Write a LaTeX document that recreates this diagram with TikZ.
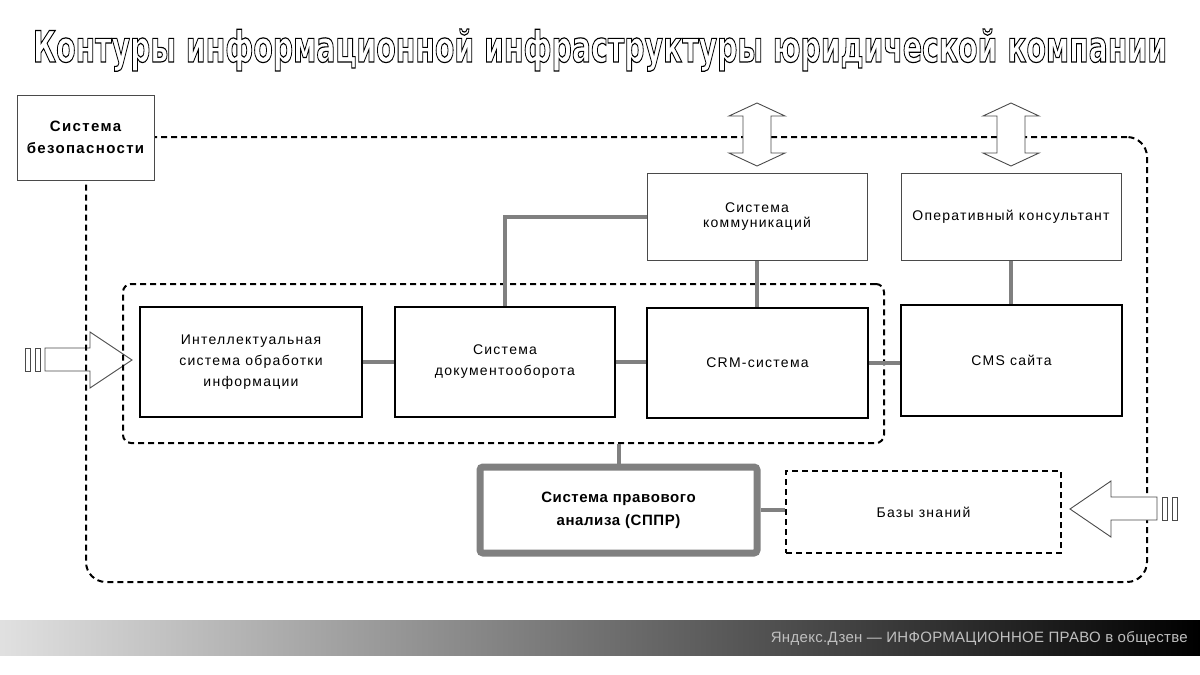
\documentclass[tikz,border=0pt]{standalone}
\usepackage{fontspec}
\setmainfont{Liberation Sans}[LetterSpace=9]
\newfontfamily\bannerfont{Liberation Sans}[LetterSpace=2]
\newfontfamily\titlefont{DejaVu Sans}
\usetikzlibrary{calc}
\definecolor{conngray}{HTML}{808080}
\definecolor{thinedge}{HTML}{4A4A4A}
\newcommand\ttltext{\resizebox{1134pt}{33pt}{\special{pdf:literal direct 2 Tr 1.2 w 0 0 0 RG 1 1 1 rg}\titlefont\bfseries\fontsize{44}{50}\selectfont Контуры информационной инфраструктуры юридической компании\special{pdf:literal direct 0 Tr 0 0 0 rg}}}
\begin{document}
\begin{tikzpicture}[x=1pt,y=-1pt,
  box/.style={draw=black, line width=2pt, fill=white, inner sep=0pt, align=center, font=\fontsize{14}{21}\selectfont},
  thinbox/.style={draw=thinedge, line width=1pt, fill=white, inner sep=0pt, align=center},
  dashline/.style={draw=black, line width=2pt, dash pattern=on 6pt off 4pt},
  conn/.style={draw=conngray, line width=4pt},
  arrowshape/.style={draw=thinedge, line width=0.9pt, fill=white, line join=miter}
]
\useasboundingbox (0,0) rectangle (1200,675);

% title (outlined)
\node[anchor=base, inner sep=0pt] (title) at (600,62) {\ttltext};

% left input arrow (under the dashed frames)
\draw[arrowshape] (45,348) -- (90,348) -- (90,332) -- (132,360) -- (90,388) -- (90,371) -- (45,371) -- cycle;
\draw[arrowshape] (25,348) rectangle (30,371);
\draw[arrowshape] (35,348) rectangle (40,371);

% outer dashed frame
\node[dashline, rounded corners=20, minimum width=1061pt, minimum height=445pt, inner sep=0pt] (outer) at (616.5,359.5) {};

% inner dashed frame
\node[dashline, rounded corners=8, minimum width=761pt, minimum height=159pt, inner sep=0pt] (inner) at (503.5,363.5) {};

% security system
\node[thinbox, minimum width=137pt, minimum height=85pt, font=\bfseries\fontsize{15}{22}\selectfont] (sec) at (85.5,137.5) {Система\\безопасности};

% top boxes
\node[thinbox, minimum width=220pt, minimum height=87pt, font=\fontsize{14}{14.5}\selectfont] (comm) at (757,216.5) {Система\\коммуникаций};
\node[thinbox, minimum width=220pt, minimum height=87pt, font=\fontsize{14}{15}\selectfont] (oper) at (1011,216.5) {Оперативный консультант};

% main row
\node[box, minimum width=222pt, minimum height=110pt] (intel) at (251,362) {Интеллектуальная\\система обработки\\информации};
\node[box, minimum width=220pt, minimum height=110pt] (doc) at (505,362) {Система\\документооборота};
\node[box, minimum width=221pt, minimum height=110pt] (crm) at (757.5,363) {CRM-система};
\node[box, minimum width=221pt, minimum height=111pt] (cms) at (1011.5,360.5) {CMS сайта};

% bottom boxes
\node[draw=conngray, line width=7pt, rounded corners=3pt, fill=white, inner sep=0pt, align=center, minimum width=277pt, minimum height=86pt, font=\bfseries\addfontfeatures{LetterSpace=4}\fontsize{15}{23}\selectfont] (sppr) at (618.5,510) {Система правового\\анализа (СППР)};
\node[dashline, fill=white, inner sep=0pt, align=center, minimum width=275pt, minimum height=82pt, font=\fontsize{14}{20}\selectfont] (kb) at (923.5,512) {Базы знаний};

% connectors
\draw[conn] (intel) -- (doc);
\draw[conn] (doc.east) -- (doc.east -| crm.west);
\draw[conn] (crm.east) -- (crm.east -| cms.west);
\draw[conn] (doc.north) |- (comm.west);
\draw[conn] (comm.south) -- (comm.south |- crm.north);
\draw[conn] (oper.south) -- (oper.south |- cms.north);
\draw[conn] (inner.south -| sppr.north) -- (sppr.north);
\draw[conn] (sppr.east) -- (sppr.east -| kb.west);

% double arrows at top
\foreach \c in {757,1011}{
  \draw[arrowshape] (\c,103) -- (\c+28,116) -- (\c+14,116) -- (\c+14,153) -- (\c+28,153) -- (\c,166)
    -- (\c-28,153) -- (\c-14,153) -- (\c-14,116) -- (\c-28,116) -- cycle;
}

% right input arrow
\draw[arrowshape] (1157,497) -- (1111,497) -- (1111,481) -- (1070,509) -- (1111,537) -- (1111,520) -- (1157,520) -- cycle;
\draw[arrowshape] (1162,497) rectangle (1167,520);
\draw[arrowshape] (1172,497) rectangle (1177,520);

% bottom banner
\shade[left color=black!12, right color=black] (0,620) rectangle (1200,655);
\node[anchor=east, text=black!25, inner sep=0pt, font=\bannerfont\fontsize{15}{18}\selectfont] (banner) at (1188,638) {Яндекс.Дзен — ИНФОРМАЦИОННОЕ ПРАВО в обществе};
\end{tikzpicture}
\end{document}
